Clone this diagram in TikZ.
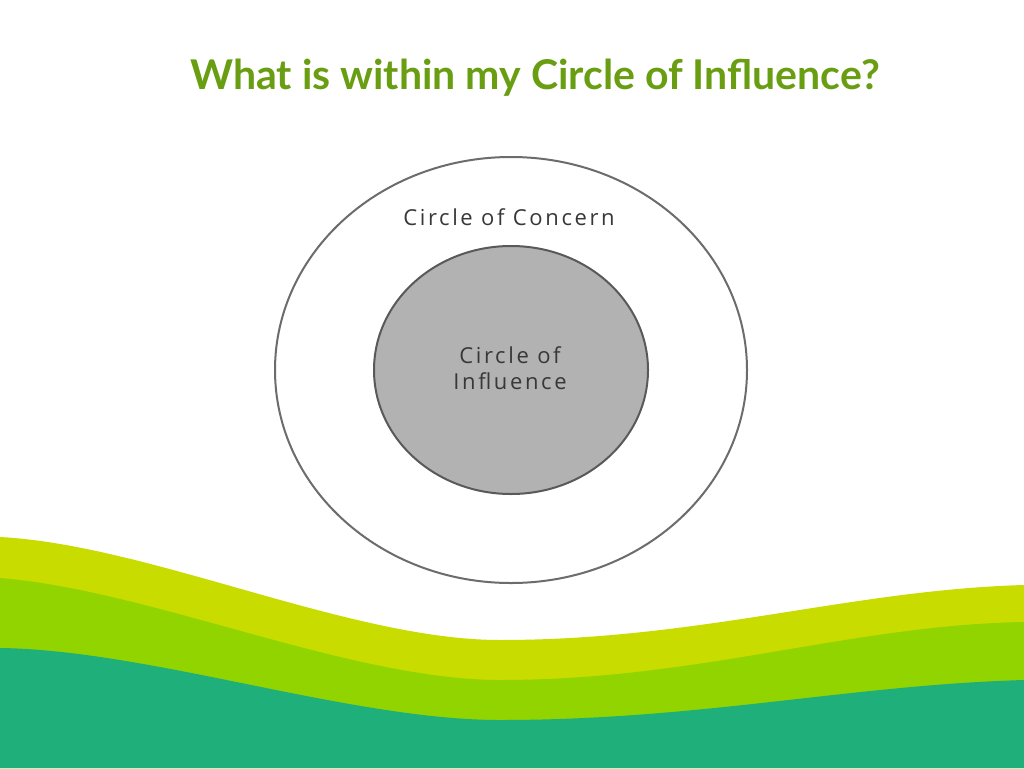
\documentclass[tikz,border=0pt]{standalone}
\usepackage{fontspec}
\setmainfont{Lato}
\newfontfamily\circfont[LetterSpace=12]{Open Sans}
\definecolor{titlegreen}{HTML}{6A9E12}
\definecolor{bandA}{HTML}{C8DC00}
\definecolor{bandB}{HTML}{92D400}
\definecolor{bandC}{HTML}{1FAF7A}
\definecolor{txtgray}{HTML}{383838}
\tikzset{lbl/.style={font=\circfont\fontsize{22}{26}\selectfont,text=txtgray,align=center}}
\begin{document}
\begin{tikzpicture}[x=1pt,y=-1pt]
\useasboundingbox (0,0) rectangle (1024,768);
\fill[white] (0,0) rectangle (1024,768);
\node[font=\bfseries\fontsize{41}{48}\selectfont,text=titlegreen] (title) at (535,78) {What is within my Circle of Influence?};
\draw[gray!85!black,line width=2pt] (511,370) ellipse [x radius=236,y radius=213];
\node[lbl] (concern) at (509,217) {Circle of Concern};
\draw[fill=gray!60,draw=gray!70!black,line width=2pt] (511,370) ellipse [x radius=137,y radius=124];
\node[lbl] (influence) at (510,368) {Circle of\\Influence};
\fill[bandA] (0,537) .. controls (150,545) and (350,640) .. (500,640) .. controls (700,640) and (850,590) .. (1024,585) -- (1024,768) -- (0,768) -- cycle;
\fill[bandB] (0,578) .. controls (150,590) and (350,680) .. (500,680) .. controls (700,680) and (850,625) .. (1024,622) -- (1024,768) -- (0,768) -- cycle;
\fill[bandC] (0,648) .. controls (150,650) and (350,720) .. (500,720) .. controls (700,720) and (850,685) .. (1024,680) -- (1024,768) -- (0,768) -- cycle;
\end{tikzpicture}
\end{document}
